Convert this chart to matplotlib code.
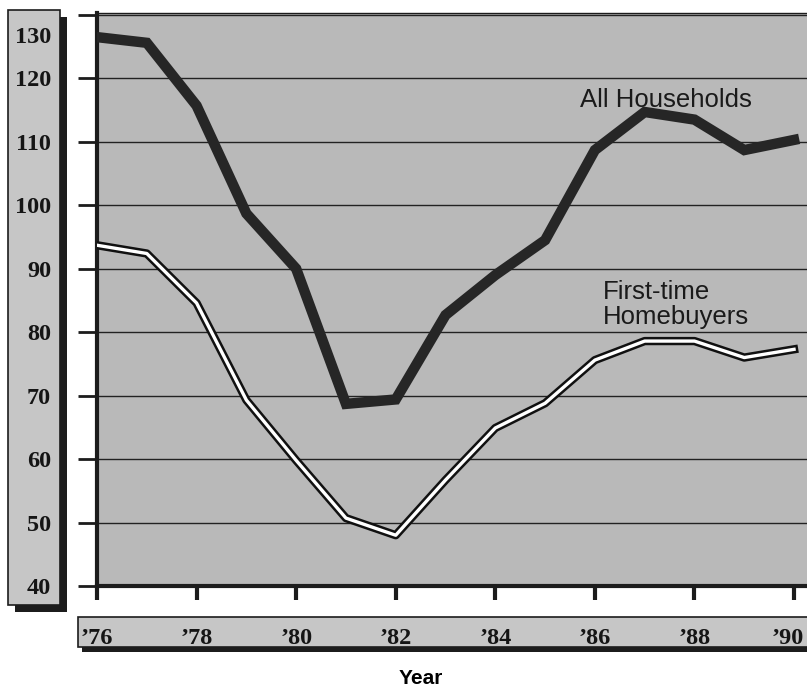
import matplotlib
matplotlib.use('Agg')
import matplotlib.pyplot as plt
import matplotlib.patheffects as pe
import matplotlib.transforms as mtransforms
from matplotlib.patches import Rectangle

# ---- data ----
years = [1976, 1977, 1978, 1979, 1980, 1981, 1982, 1983,
         1984, 1985, 1986, 1987, 1988, 1989, 1990]
all_households = [126.5, 125.6, 115.7, 98.7, 90.0, 68.7, 69.4, 82.7,
                  89.0, 94.5, 108.7, 114.7, 113.5, 108.7, 110.3]
first_time = [93.7, 92.4, 84.6, 69.3, 59.8, 50.7, 48.0, 56.7,
              64.9, 68.8, 75.6, 78.6, 78.6, 76.0, 77.3]

y_ticks = [40, 50, 60, 70, 80, 90, 100, 110, 120, 130]
x_ticks = [1976, 1978, 1980, 1982, 1984, 1986, 1988, 1990]
x_labels = ['\u201976', '\u201978', '\u201980', '\u201982',
            '\u201984', '\u201986', '\u201988', '\u201990']

W, H = 807, 689
BG = '#b9b9b9'
BOX = '#c6c6c6'
INK = '#1c1c1c'


def fx(px):
    return px / W


def fy(py):
    return 1 - py / H


def label_box(fig, x0, y0, x1, y1, dx, dy):
    # shadow first, then the light box on top
    fig.patches.append(Rectangle((fx(x0 + dx), fy(y1 + dy)), fx(x1) - fx(x0), fy(y0) - fy(y1),
                                 transform=fig.transFigure, facecolor=INK, edgecolor='none', zorder=-2))
    fig.patches.append(Rectangle((fx(x0), fy(y1)), fx(x1) - fx(x0), fy(y0) - fy(y1),
                                 transform=fig.transFigure, facecolor=BOX, edgecolor=INK,
                                 linewidth=1.2, zorder=-1))


fig = plt.figure(figsize=(W / 100, H / 100), dpi=100)

label_box(fig, 8, 10, 60, 605, 7, 7)
label_box(fig, 78, 617, 812, 647, 4, 5)

ax = fig.add_axes([fx(97), fy(586), 1 - fx(97), fy(13) - fy(586)])
ax.set_facecolor(BG)
ax.set_xlim(1976, 1990.26)
ax.set_ylim(40, 130.3)

ax.plot(years, all_households, color='#262626', linewidth=7.5,
        solid_joinstyle='miter', zorder=3)
ax.plot(years, first_time, color='white', linewidth=2.4, zorder=4,
        path_effects=[pe.Stroke(linewidth=6.0, foreground='#111111'), pe.Normal()])

ax.set_yticks(y_ticks)
ax.set_yticklabels([str(v) for v in y_ticks])
ax.set_xticks(x_ticks)
ax.set_xticklabels(x_labels)

ax.yaxis.grid(True, color='#222222', linewidth=1.0)
ax.set_axisbelow(True)

ax.spines['right'].set_visible(False)
ax.spines['top'].set_linewidth(1.0)
ax.spines['left'].set_linewidth(3.0)
ax.spines['bottom'].set_linewidth(3.0)
for s in ax.spines.values():
    s.set_color(INK)

ax.tick_params(axis='y', length=14, width=2.0, color=INK, pad=19)
ax.tick_params(axis='x', length=10, width=3.0, color=INK, pad=20)
for lab in ax.get_yticklabels() + ax.get_xticklabels():
    lab.set_fontfamily('Liberation Serif')
    lab.set_fontweight('bold')
    lab.set_fontsize(17.5)
    lab.set_color('#151515')

# top label sits lower inside its box
top_lab = ax.get_yticklabels()[-1]
top_lab.set_transform(top_lab.get_transform() +
                      mtransforms.ScaledTranslation(0, -0.2, fig.dpi_scale_trans))
# last year label is pinned to the right edge
end_lab = ax.get_xticklabels()[-1]
end_lab.set_transform(end_lab.get_transform() +
                      mtransforms.ScaledTranslation(-0.06, 0, fig.dpi_scale_trans))

ax.text(1985.7, 116.6, 'All Households', fontsize=18.5, family='Liberation Sans',
        color='#1a1a1a', va='center', ha='left', zorder=5)
ax.text(1986.16, 84.4, 'First-time\nHomebuyers', fontsize=18.5, family='Liberation Sans',
        color='#1a1a1a', va='center', ha='left', linespacing=1.05, zorder=5)

fig.text(fx(421), fy(678), 'Year', fontsize=15, fontweight='bold',
         family='Liberation Sans', ha='center', va='center')

fig.savefig('out.png', dpi=100)
